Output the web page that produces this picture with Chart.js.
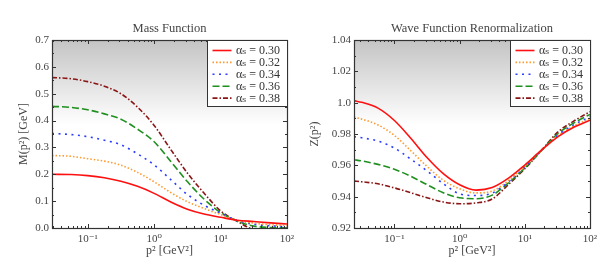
<!DOCTYPE html>
<html><head><meta charset="utf-8">
<script src="https://cdn.jsdelivr.net/npm/chart.js@4/dist/chart.umd.min.js"></script>
<style>
html,body{margin:0;padding:0;background:#fff;width:606px;height:271px;overflow:hidden}
.wrap{position:absolute;top:0;width:303px;height:271px}
canvas{display:block}
</style></head><body>
<div class="wrap" style="left:0"><canvas id="c1" width="303" height="271"></canvas></div>
<div class="wrap" style="left:303px"><canvas id="c2" width="303" height="271"></canvas></div>
<script>
// ---- data ----
const seriesLabels = ['αₛ = 0.30', 'αₛ = 0.32', 'αₛ = 0.34', 'αₛ = 0.36', 'αₛ = 0.38'];
const xTickValues = [0.1, 1, 10, 100];
const xTickLabels = ['10⁻¹', '10⁰', '10¹', '10²'];

const massTitle = 'Mass Function';
const massP2  = [0.029, 0.056, 0.1, 0.178, 0.316, 0.562, 1, 1.78, 3.16, 5.62, 10, 17.8, 31.6, 56.2, 100];
const mass030 = [0.200, 0.199, 0.195, 0.187, 0.174, 0.155, 0.129, 0.097, 0.070, 0.052, 0.040, 0.029, 0.024, 0.019, 0.015];
const mass032 = [0.270, 0.267, 0.258, 0.249, 0.234, 0.207, 0.172, 0.132, 0.098, 0.073, 0.050, 0.028, 0.018, 0.012, 0.009];
const mass034 = [0.352, 0.348, 0.340, 0.327, 0.310, 0.276, 0.235, 0.180, 0.125, 0.085, 0.055, 0.027, 0.014, 0.008, 0.005];
const mass036 = [0.453, 0.449, 0.440, 0.425, 0.405, 0.368, 0.321, 0.248, 0.173, 0.108, 0.058, 0.026, 0.007, 0.002, 0.001];
const mass038 = [0.560, 0.556, 0.545, 0.528, 0.500, 0.450, 0.382, 0.292, 0.205, 0.130, 0.064, 0.025, -0.003, -0.004, 0.000];

const wfTitle = 'Wave Function Renormalization';
const wfP2  = [0.024, 0.0316, 0.056, 0.1, 0.178, 0.316, 0.562, 1, 1.78, 3.16, 5.62, 10, 17.8, 31.6, 56.2, 100];
const wf030 = [1.0013, 1.0002, 0.9965, 0.9886, 0.9773, 0.9650, 0.9547, 0.9476, 0.9442, 0.9458, 0.9518, 0.9602, 0.9695, 0.9780, 0.9843, 0.9888];
const wf032 = [0.9908, 0.9895, 0.9858, 0.9791, 0.9694, 0.9593, 0.9505, 0.9450, 0.9424, 0.9436, 0.9502, 0.9595, 0.9693, 0.9785, 0.9850, 0.9900];
const wf034 = [0.9783, 0.9776, 0.9755, 0.9710, 0.9640, 0.9565, 0.9483, 0.9418, 0.9407, 0.9423, 0.9495, 0.9590, 0.9692, 0.9790, 0.9858, 0.9910];
const wf036 = [0.9636, 0.9628, 0.9606, 0.9575, 0.9530, 0.9477, 0.9425, 0.9393, 0.9387, 0.9410, 0.9488, 0.9583, 0.9692, 0.9800, 0.9870, 0.9925];
const wf038 = [0.9500, 0.9495, 0.9482, 0.9456, 0.9425, 0.9393, 0.9366, 0.9355, 0.9360, 0.9385, 0.9478, 0.9578, 0.9693, 0.9810, 0.9882, 0.9942];

// ---- styles ----
const colors = ['#ff1010', '#ff9a2e', '#2a3cff', '#1f8f1f', '#8b1414'];
const dashes = [[], [1.5, 2], [2, 4.5], [7, 3], [5, 2, 1.5, 2]];
const FONT = "'Liberation Serif', 'DejaVu Serif', serif";

function makeDecor(o) {
  return {
    id: 'decor',
    beforeDraw(chart) {
      const {ctx, chartArea: a} = chart;
      const g = ctx.createLinearGradient(0, a.top, 0, a.bottom);
      g.addColorStop(0, '#c4c4c4');
      g.addColorStop(0.45, '#ffffff');
      g.addColorStop(1, '#ffffff');
      ctx.save();
      ctx.fillStyle = g;
      ctx.fillRect(a.left, a.top, a.right - a.left, a.bottom - a.top);
      ctx.restore();
    },
    afterDraw(chart) {
      const {ctx, chartArea: a} = chart;
      const xs = chart.scales.x, ys = chart.scales.y;
      ctx.save();
      ctx.strokeStyle = '#333';
      ctx.lineWidth = 1;
      const e0 = Math.floor(Math.log10(xs.min)), e1 = Math.ceil(Math.log10(xs.max));
      ctx.beginPath();
      for (let e = e0; e <= e1; e++) {
        for (let k = 1; k < 10; k++) {
          const v = k * Math.pow(10, e);
          if (v < xs.min || v > xs.max) continue;
          const px = Math.round(xs.getPixelForValue(v)) + 0.5;
          const L = k === 1 ? 4 : 2;
          ctx.moveTo(px, a.bottom); ctx.lineTo(px, a.bottom - L);
          ctx.moveTo(px, a.top); ctx.lineTo(px, a.top + L);
        }
      }
      ys.ticks.forEach(t => {
        const py = Math.round(ys.getPixelForValue(t.value)) + 0.5;
        const L = o.isMajor(t.value) ? 4 : 2;
        ctx.moveTo(a.left, py); ctx.lineTo(a.left + L, py);
        ctx.moveTo(a.right, py); ctx.lineTo(a.right - L, py);
      });
      ctx.stroke();
      ctx.lineWidth = 1.2;
      ctx.strokeRect(Math.round(a.left) + 0.5, Math.round(a.top) + 0.5,
        Math.round(a.right - a.left), Math.round(a.bottom - a.top));
      ctx.fillStyle = '#444';
      ctx.font = '12.5px ' + FONT;
      ctx.textAlign = 'center';
      ctx.textBaseline = 'middle';
      ctx.fillText(o.title, (a.left + a.right) / 2, 29);
      const bw = 80, bh = 66;
      const bx = a.right - bw, by = a.top;
      ctx.fillStyle = '#fff';
      ctx.fillRect(bx, by, bw, bh);
      ctx.lineWidth = 1;
      ctx.strokeStyle = '#333';
      ctx.strokeRect(Math.round(bx) + 0.5, Math.round(by) + 0.5, bw, bh);
      ctx.textAlign = 'left';
      ctx.font = '12px ' + FONT;
      chart.data.datasets.forEach((ds, i) => {
        const y = by + 10.5 + i * 11.9;
        ctx.save();
        ctx.strokeStyle = ds.borderColor;
        ctx.lineWidth = ds.borderWidth;
        ctx.setLineDash(ds.borderDash || []);
        ctx.beginPath();
        ctx.moveTo(bx + 5.5, y); ctx.lineTo(bx + 24.5, y);
        ctx.stroke();
        ctx.restore();
        ctx.fillStyle = '#333';
        ctx.fillText(ds.label, bx + 29, y + 0.5);
      });
      ctx.restore();
    }
  };
}

function makeChart(id, o) {
  return new Chart(document.getElementById(id), {
    type: 'line',
    data: {
      datasets: o.series.map((s, i) => ({
        label: seriesLabels[i],
        data: o.x.map((x, j) => ({x: x, y: s[j]})),
        borderColor: colors[i],
        borderDash: dashes[i],
        borderWidth: 1.6,
        pointRadius: 0,
        fill: false,
        cubicInterpolationMode: 'monotone'
      }))
    },
    options: {
      responsive: false,
      animation: false,
      events: [],
      layout: {padding: {left: 0, right: 16, top: 40, bottom: 0}},
      plugins: {legend: {display: false}, tooltip: {enabled: false}},
      scales: {
        x: {
          type: 'logarithmic',
          min: o.x[0], max: 100,
          grid: {display: false, drawTicks: false},
          border: {display: false},
          afterBuildTicks(s) { s.ticks = xTickValues.map(v => ({value: v})); },
          ticks: {
            autoSkip: false, maxRotation: 0, padding: 5,
            color: '#444', font: {family: FONT, size: 11},
            callback: (v) => { const i = xTickValues.indexOf(v); return i >= 0 ? xTickLabels[i] : ''; }
          },
          title: {display: true, text: 'p² [GeV²]', color: '#444',
                  font: {family: FONT, size: 12}, padding: {top: 0, bottom: 13}},
          afterFit(s) { s.height = 43; }
        },
        y: {
          type: 'linear',
          min: o.yMin, max: o.yMax,
          grid: {display: false, drawTicks: false},
          border: {display: false},
          ticks: {
            stepSize: o.step, autoSkip: false, padding: 3,
            color: '#444', font: {family: FONT, size: 11},
            callback: (v) => o.isMajor(v) ? o.fmt(v) : ''
          },
          title: {display: true, text: o.yTitle, color: '#444',
                  font: {family: FONT, size: 12}, padding: {top: o.yTitlePad, bottom: 0}},
          afterFit(s) { s.width = o.yWidth; }
        }
      }
    },
    plugins: [makeDecor(o)]
  });
}

makeChart('c1', {
  title: massTitle, x: massP2, series: [mass030, mass032, mass034, mass036, mass038],
  yMin: 0, yMax: 0.7, step: 0.05,
  isMajor: v => Math.round(v * 100) % 10 === 0,
  fmt: v => v.toFixed(1),
  yTitle: 'M(p²) [GeV]', yTitlePad: 17, yWidth: 52
});
makeChart('c2', {
  title: wfTitle, x: wfP2, series: [wf030, wf032, wf034, wf036, wf038],
  yMin: 0.92, yMax: 1.04, step: 0.01,
  isMajor: v => Math.round(v * 100) % 2 === 0,
  fmt: v => (Math.abs(v - 1) < 1e-9 ? '1.0' : v.toFixed(2)),
  yTitle: 'Z(p²)', yTitlePad: 5, yWidth: 51
});
</script>
</body></html>
